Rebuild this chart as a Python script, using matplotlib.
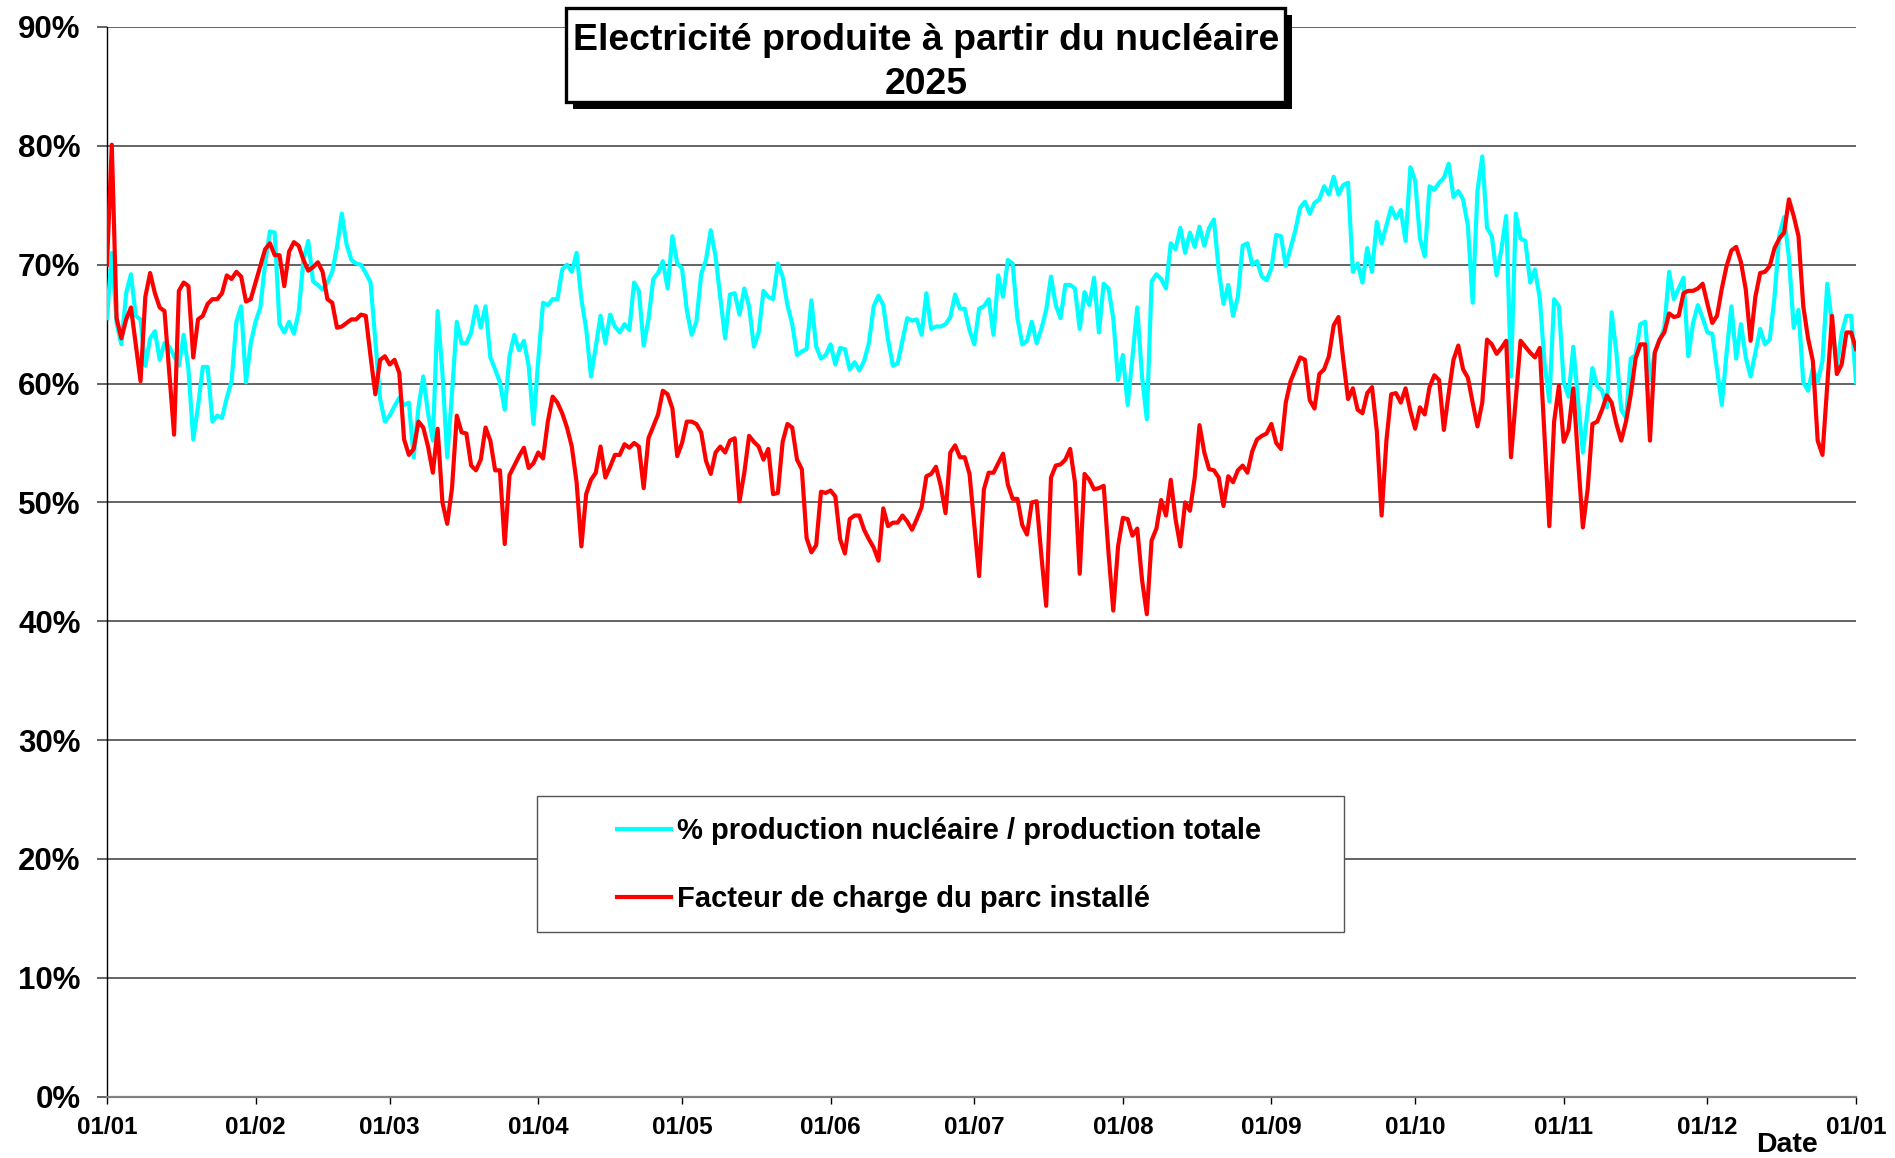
import numpy as np
import matplotlib
matplotlib.use("Agg")
import matplotlib.pyplot as plt
from matplotlib import font_manager
from matplotlib.patches import Rectangle
from matplotlib.ticker import FuncFormatter

# ---------------- data (day of year 2025, value in %) ----------------
red_days = [0,1,2,3,4,5,7,8,9,10,11,12,14,15,16,17,18,19,20,21,22,23,24,25,26,27,28,29,30,
            31,32,33,34,35,36,37,38,39,40,41,42,43,44,45,46,47,48,49,50,51,52,53,54,55,56,57,58,59,60,
            61,62,63,64,65,66,67,68,69,70,71,72,73,74,75,76,77,78,79,80,81,82,83,84,85,86,87,88,89,90,
            91,92,93,94,95,96,97,98,99,100,101,102,103,104,105,106,107,108,109,110,111,112,113,114,115,
            116,117,118,119,120,121,122,123,124,125,126,127,128,129,130,131,132,133,134,135,136,137,138,
            139,140,141,142,143,144,145,146,147,148,149,150,151,152,153,154,155,156,157,158,159,160,161,
            162,163,164,165,166,167,168,169,170,171,172,173,174,175,176,177,178,179,180,182,183,184,185,
            186,187,188,189,190,191,192,193,194,195,196,197,198,199,200,201,202,203,204,205,206,207,208,
            209,210,211,212,213,214,215,216,217,218,219,220,221,222,223,224,225,226,227,228,229,230,231,
            232,233,234,235,236,237,238,239,240,241,242,243,244,245,246,247,248,249,250,251,252,253,254,
            255,256,257,258,259,260,261,262,263,264,265,266,267,268,269,270,271,272,273,274,275,276,277,
            278,279,280,281,282,283,284,285,286,287,288,289,290,291,292,293,294,295,296,297,298,299,300,
            301,302,303,304,305,306,307,308,309,310,311,312,313,314,315,316,317,318,319,320,321,322,323,
            324,325,326,327,328,329,330,331,332,333,334,335,336,337,338,339,340,341,342,343,344,345,346,
            347,348,349,350,351,352,353,354,355,356,357,358,359,360,361,362,363,364,365]
red_vals = [70.0,80.1,65.5,63.8,65.4,66.4,60.2,67.3,69.3,67.6,66.4,66.1,55.7,67.8,68.5,68.2,62.2,65.4,65.7,66.7,67.1,67.1,67.6,69.1,68.8,69.4,69.0,66.9,67.1,
            68.5,69.9,71.3,71.8,70.8,70.8,68.2,71.1,71.9,71.6,70.4,69.5,69.8,70.2,69.4,67.1,66.8,64.7,64.8,65.1,65.4,65.4,65.8,65.7,62.3,59.1,62.0,62.3,61.6,62.0,
            60.9,55.3,54.0,54.5,56.8,56.3,54.7,52.5,56.2,50.0,48.2,51.2,57.3,55.9,55.8,53.1,52.7,53.6,56.3,55.2,52.7,52.7,46.5,52.3,53.1,53.9,54.6,52.9,53.3,54.2,
            53.7,56.8,58.9,58.4,57.5,56.3,54.7,51.7,46.3,50.7,51.9,52.5,54.7,52.1,53.0,54.0,54.0,54.9,54.6,55.0,54.7,51.2,55.4,56.4,57.4,
            59.4,59.1,57.9,53.9,55.0,56.8,56.8,56.6,55.9,53.5,52.4,54.2,54.7,54.2,55.2,55.4,50.1,52.5,55.6,55.1,54.7,53.6,54.5,
            50.7,50.8,55.1,56.6,56.3,53.6,52.8,47.0,45.8,46.4,50.9,50.8,51.0,50.5,46.9,45.7,48.6,48.9,48.9,47.7,46.9,46.2,45.1,
            49.5,48.0,48.3,48.3,48.9,48.4,47.7,48.6,49.6,52.2,52.4,53.0,51.4,49.1,54.2,54.8,53.8,53.8,52.4,43.8,51.1,52.5,52.5,
            53.3,54.1,51.5,50.3,50.3,48.1,47.3,50.0,50.1,45.5,41.3,52.1,53.1,53.2,53.6,54.5,51.7,44.0,52.4,51.9,51.1,51.2,51.4,
            45.8,40.9,46.3,48.7,48.6,47.2,47.8,43.5,40.6,46.8,47.8,50.2,48.9,51.9,48.6,46.3,50.0,49.3,52.1,56.5,54.2,52.8,52.7,
            52.1,49.7,52.2,51.7,52.7,53.1,52.5,54.3,55.3,55.6,55.8,56.6,55.0,54.5,58.4,60.2,61.2,62.2,62.0,58.6,57.9,60.8,61.2,
            62.3,64.9,65.6,62.0,58.7,59.6,57.8,57.5,59.2,59.7,56.0,48.9,55.2,59.1,59.2,58.4,59.6,57.7,56.2,58.0,57.4,59.7,60.7,
            60.3,56.1,59.2,62.0,63.2,61.2,60.5,58.4,56.4,58.4,63.7,63.3,62.5,63.0,63.6,53.8,58.7,63.6,63.1,62.6,62.2,63.0,55.6,
            48.0,56.8,59.8,55.1,56.1,59.6,53.6,47.9,51.1,56.6,56.8,57.8,59.0,58.4,56.6,55.2,56.8,59.1,62.1,63.3,63.3,55.2,62.6,
            63.7,64.3,65.9,65.6,65.7,67.6,67.8,67.8,68.0,68.4,66.7,65.1,65.7,68.0,69.9,71.2,71.5,70.2,67.9,63.6,67.3,69.3,69.4,
            69.9,71.4,72.2,72.7,75.5,74.1,72.4,66.5,63.8,61.9,55.2,54.0,59.8,65.7,60.8,61.6,64.3,64.3,62.9]

cyan_days = [0,1,2,3,4,5,6,7,8,9,10,11,12,13,15,16,17,18,19,20,21,22,23,24,25,26,27,28,29,30,
             31,32,33,34,35,36,37,38,39,40,41,42,43,44,45,46,47,48,49,50,51,52,53,54,55,57,58,59,60,
             61,62,63,64,65,66,67,68,69,70,71,72,73,74,75,76,77,78,79,80,81,82,83,84,85,86,87,88,89,90,
             91,92,93,94,95,96,97,98,99,100,101,102,103,104,105,106,107,108,109,110,111,112,113,114,115,
             116,117,118,119,120,121,122,123,124,125,126,127,128,129,130,131,132,133,134,135,136,137,138,
             139,140,141,142,143,144,145,146,147,148,149,150,151,152,153,154,155,156,157,158,159,160,161,
             162,163,164,165,166,167,168,169,170,171,172,173,174,175,176,177,178,179,180,181,182,183,184,
             185,186,187,188,189,190,191,192,193,194,195,196,197,198,199,200,201,202,203,204,205,206,207,
             208,209,210,211,212,213,214,215,216,217,218,219,220,221,222,223,224,225,226,227,228,229,230,
             231,232,233,234,235,236,237,238,239,240,241,242,243,244,245,246,247,248,249,250,251,252,253,
             254,255,256,257,258,259,260,261,262,263,264,265,266,267,268,269,270,271,272,273,274,275,276,
             277,278,279,280,281,282,283,284,285,286,287,288,289,290,291,292,293,294,295,296,297,298,299,
             300,301,302,303,304,305,306,307,308,309,310,311,312,313,314,315,316,317,318,319,320,321,322,
             323,324,325,326,327,328,329,330,331,332,333,334,335,336,337,338,339,340,341,342,343,344,345,
             346,347,348,349,350,351,352,353,354,355,356,357,358,359,360,361,362,363,364,365]
cyan_vals = [65.5,71.0,65.1,63.3,67.6,69.2,65.7,65.4,61.5,63.8,64.4,62.0,63.4,63.1,61.5,64.1,61.2,55.3,58.1,61.4,61.4,56.8,57.3,57.1,58.8,60.2,65.2,66.5,60.1,63.4,
             65.2,66.4,70.1,72.8,72.7,65.0,64.3,65.2,64.2,66.0,70.4,72.0,68.6,68.3,67.9,68.5,69.4,71.5,74.3,71.7,70.4,70.1,70.0,69.3,68.5,58.7,56.8,57.3,58.1,
             58.8,58.2,58.4,53.8,58.0,60.6,57.5,55.2,66.1,60.9,53.8,59.2,65.2,63.4,63.4,64.3,66.5,64.7,66.5,62.2,61.2,60.1,57.8,62.3,64.1,62.8,63.6,61.5,56.6,62.0,
             66.8,66.6,67.1,67.1,69.6,70.0,69.4,71.0,67.1,64.6,60.6,63.1,65.7,63.4,65.8,64.8,64.3,65.0,64.5,68.5,67.8,63.2,65.4,68.8,69.3,
             70.3,68.0,72.4,70.1,69.7,66.2,64.1,65.2,69.2,70.4,72.9,70.7,67.2,63.8,67.5,67.6,65.8,68.0,66.5,63.1,64.3,67.8,67.3,
             67.1,70.1,69.0,66.6,65.0,62.4,62.7,62.9,67.0,63.1,62.1,62.4,63.3,61.6,63.0,62.9,61.2,61.8,61.1,61.9,63.4,66.5,67.4,
             66.6,63.7,61.5,61.7,63.6,65.5,65.3,65.4,64.1,67.6,64.6,64.8,64.8,65.0,65.6,67.5,66.3,66.3,64.5,63.3,66.3,66.5,67.1,
             64.1,69.1,67.3,70.4,70.1,65.5,63.3,63.6,65.2,63.4,64.6,66.2,69.0,66.6,65.5,68.3,68.3,68.0,64.6,67.7,66.6,68.9,64.3,
             68.4,68.0,65.5,60.3,62.4,58.2,62.2,66.4,60.6,57.0,68.6,69.2,68.8,68.0,71.8,71.3,73.1,71.0,72.7,71.5,73.2,71.6,73.1,
             73.8,69.6,66.7,68.3,65.7,67.3,71.6,71.8,70.0,70.3,69.0,68.7,69.7,72.5,72.4,69.9,71.4,72.9,74.8,75.3,74.3,75.2,75.5,
             76.6,75.9,77.4,75.9,76.7,76.9,69.4,70.1,68.5,71.4,69.4,73.6,71.8,73.3,74.8,73.9,74.6,72.0,78.2,77.1,72.2,70.7,76.6,
             76.3,76.9,77.3,78.5,75.7,76.2,75.5,73.3,66.8,76.2,79.1,73.1,72.4,69.1,71.3,74.1,60.6,74.3,72.2,72.0,68.5,69.6,67.2,
             61.7,58.5,67.1,66.5,60.1,58.9,63.1,58.5,54.2,57.8,61.3,59.8,59.4,58.0,66.0,62.6,57.8,57.1,62.1,62.4,65.0,65.2,60.3,
             62.6,63.6,64.7,69.4,67.1,68.0,68.9,62.3,65.1,66.6,65.5,64.3,64.2,61.2,58.2,62.6,66.5,62.1,65.0,62.2,60.6,62.6,64.6,
             63.3,63.7,67.3,72.5,74.0,70.6,64.7,66.2,60.1,59.4,61.3,60.1,61.9,68.4,65.0,61.5,64.2,65.7,65.7,60.1]

month_ticks = [0, 31, 59, 90, 120, 151, 181, 212, 243, 273, 304, 334, 365]
month_labels = ["01/01", "01/02", "01/03", "01/04", "01/05", "01/06", "01/07",
                "01/08", "01/09", "01/10", "01/11", "01/12", "01/01"]
y_ticks = [0, 10, 20, 30, 40, 50, 60, 70, 80, 90]

title_line1 = "Electricité produite à partir du nucléaire"
title_line2 = "2025"
label_cyan = "% production nucléaire / production totale"
label_red = "Facteur de charge du parc installé"

# ---------------- fonts ----------------
names = {f.name for f in font_manager.fontManager.ttflist}
base_font = "Liberation Sans" if "Liberation Sans" in names else "DejaVu Sans"
if "Liberation Sans Narrow" in names:
    leg_font, leg_size = "Liberation Sans Narrow", 26
else:
    leg_font, leg_size = base_font, 21
plt.rcParams["font.family"] = [base_font, "DejaVu Sans"]
plt.rcParams["font.weight"] = "bold"

W, H = 1895, 1158
fig = plt.figure(figsize=(W / 100, H / 100), dpi=100)
fig.patch.set_facecolor("white")

def fx(px):
    return px / W

def fy(py):  # py measured from top
    return 1 - py / H

ax = fig.add_axes([fx(107), fy(1096.7), fx(1856) - fx(107), fy(27) - fy(1096.7)])

ax.plot(cyan_days, cyan_vals, color="#00FFFF", lw=3.0, solid_joinstyle="round",
        label=label_cyan, zorder=3)
ax.plot(red_days, red_vals, color="#FF0000", lw=3.0, solid_joinstyle="round",
        label=label_red, zorder=4)

ax.set_xlim(0, 365)
ax.set_ylim(0, 90)
ax.set_xticks(month_ticks)
ax.set_xticklabels(month_labels)
ax.set_yticks(y_ticks)
ax.yaxis.set_major_formatter(FuncFormatter(lambda v, p: f"{int(round(v))}%"))

ax.grid(axis="y", color="#4a4a4a", lw=1.2, zorder=1)
ax.set_axisbelow(True)
for s in ("top", "right"):
    ax.spines[s].set_visible(False)
ax.spines["left"].set_color("black")
ax.spines["left"].set_linewidth(1.0)
ax.spines["bottom"].set_color("#808080")
ax.spines["bottom"].set_linewidth(1.6)

ax.tick_params(axis="x", direction="out", length=5, width=1.0, color="black",
               pad=9, labelsize=17.5)
ax.tick_params(axis="y", direction="out", length=7, width=1.2, color="#4a4a4a",
               pad=12, labelsize=22.5)
for lab in ax.get_xticklabels() + ax.get_yticklabels():
    lab.set_fontweight("bold")

# "Date" label
fig.text(fx(1787), fy(1152), "Date", ha="center", va="baseline",
         fontsize=20.5, fontweight="bold")

# ---------------- title box ----------------
bx0, by0, bx1, by1 = 566, 8, 1285, 102
fig.patches.append(Rectangle((fx(bx0 + 7), fy(by1 + 7)), fx(bx1 - bx0), fy(by0) - fy(by1),
                             transform=fig.transFigure, facecolor="black",
                             edgecolor="black", lw=0, zorder=1))
fig.patches.append(Rectangle((fx(bx0), fy(by1)), fx(bx1 - bx0), fy(by0) - fy(by1),
                             transform=fig.transFigure, facecolor="white",
                             edgecolor="black", lw=2.4, zorder=1.1))
fig.text(fx(926), fy(49.5), title_line1, ha="center", va="baseline",
         fontsize=26.9, fontweight="bold", zorder=3)
fig.text(fx(926), fy(93.5), title_line2, ha="center", va="baseline",
         fontsize=26.9, fontweight="bold", zorder=3)

# ---------------- legend ----------------
fs_px = leg_size * 100 / 72
fig.patches.append(Rectangle((fx(537), fy(932)), fx(1344 - 537), fy(796) - fy(932),
                             transform=fig.transFigure, facecolor="white",
                             edgecolor="#555555", lw=1.0, zorder=1))
leg = fig.legend(loc="upper left", bbox_to_anchor=(fx(617), fy(817)),
                 frameon=False, borderpad=0, borderaxespad=0,
                 handlelength=54 / fs_px, handletextpad=6 / fs_px,
                 labelspacing=(68 - 0.95 * fs_px) / fs_px,
                 prop={"family": leg_font, "weight": "bold", "size": leg_size})
leg.set_zorder(5)

fig.savefig("out.png", dpi=100, facecolor="white")
